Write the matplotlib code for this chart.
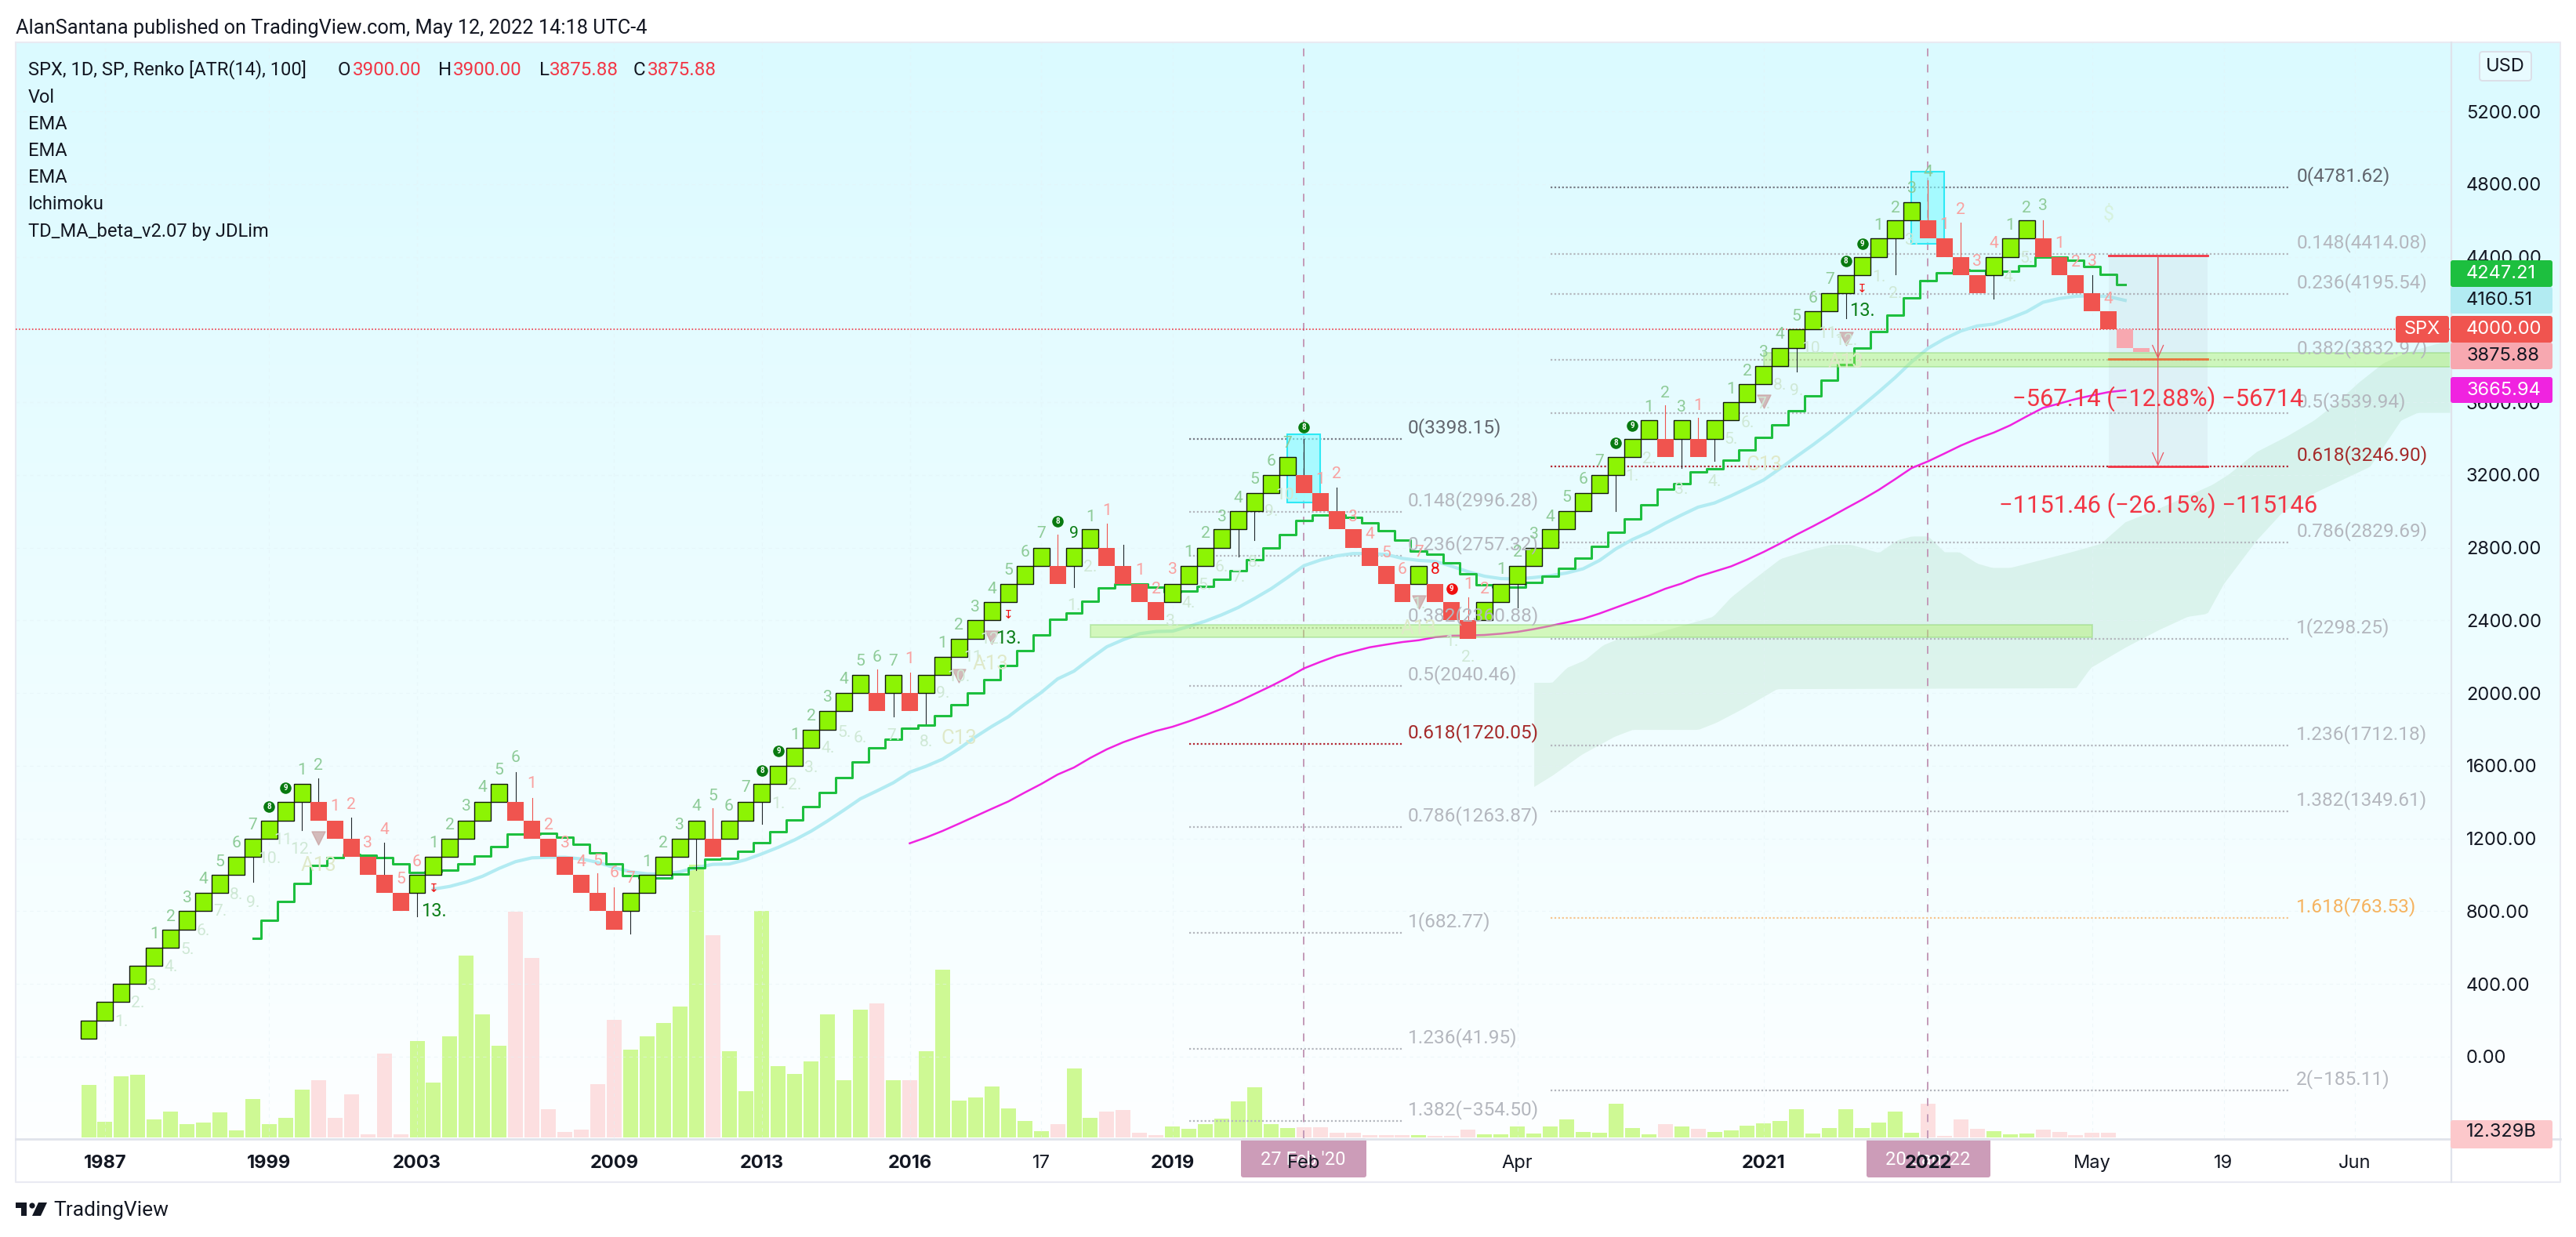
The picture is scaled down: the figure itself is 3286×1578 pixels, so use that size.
import numpy as np
import matplotlib
matplotlib.use('Agg')
import matplotlib.pyplot as plt
from matplotlib.colors import LinearSegmentedColormap
from matplotlib.patches import Rectangle, FancyBboxPatch, Polygon, Circle

plt.rcParams['font.family'] = ['Roboto', 'DejaVu Sans']

# ---------- data ----------
brick_low = [100,200,300,400,500,600,700,800,900,1000,1100,1200,1300,1400,
             1300,1200,1100,1000,900,800,
             900,1000,1100,1200,1300,1400,
             1300,1200,1100,1000,900,800,700,
             800,900,1000,1100,1200,
             1100,
             1200,1300,1400,1500,1600,1700,1800,1900,2000,
             1900,2000,1900,
             2000,2100,2200,2300,2400,2500,2600,2700,
             2600,2700,2800,
             2700,2600,2500,2400,
             2500,2600,2700,2800,2900,3000,3100,3200,
             3100,3000,2900,2800,2700,2600,2500,
             2600,
             2500,2400,2300,
             2400,2500,2600,2700,2800,2900,3000,3100,3200,3300,3400,
             3300,3400,3300,
             3400,3500,3600,3700,3800,3900,4000,4100,4200,4300,4400,4500,4600,
             4500,4400,4300,4200,
             4300,4400,4500,
             4400,4300,4200,4100,4000,
             3900,3875.88]
brick_high_last = 3900.0
brick_dir = ('gggggggggggggg' 'rrrrrr' 'gggggg' 'rrrrrrr' 'ggggg' 'r' 'ggggggggg' 'rgr' 'gggggggg'
             'r' 'gg' 'rrrr' 'gggggggg' 'rrrrrrr' 'g' 'rrr' 'ggggggggggg' 'r' 'g' 'r'
             'ggggggggggggg' 'rrrr' 'ggg' 'rrrrr' 'pp')

volumes = [67,20,78,80,23,33,17,19,32,9,49,17,25,61,73,25,55,4,107,4,123,70,129,232,157,117,288,229,36,7,10,68,150,
           112,129,146,167,348,258,110,59,289,91,81,97,157,73,163,171,73,73,110,214,47,51,65,37,21,8,17,88,25,33,35,6,3,
           14,11,17,24,46,64,17,12,13,13,6,6,3,3,3,3,2,2,10,4,4,14,5,14,23,7,6,43,12,4,17,14,11,7,9,15,18,21,36,5,12,36,
           12,19,33,6,43,2,23,11,8,4,5,10,7,3,6,6]

ema_green_start = 10
ema_green = [649,750,853,952,1054,1097,1114,1110,1097,1062,1013,1017,1026,1062,1103,1155,1223,1226,1230,1208,1170,
             1122,1062,998,984,984,1004,1040,1086,1092,1129,1176,1237,1301,1376,1452,1536,1622,1700,1745,1807,1824,
             1876,1936,2002,2076,2153,2234,2320,2406,2442,2507,2579,2602,2602,2583,2557,2561,2586,2626,2675,2734,
             2800,2872,2950,2981,2981,2967,2938,2895,2843,2783,2766,2718,2658,2596,2583,2583,2607,2643,2686,2741,
             2809,2883,2960,3037,3123,3152,3218,3234,3283,3339,3408,3477,3553,3635,3723,3808,3898,3990,4081,4174,
             4270,4314,4328,4325,4304,4321,4353,4400,4400,4383,4347,4304,4247.21]
ema_blue_start = 21
ema_blue = [922,937,961,993,1036,1073,1094,1097,1097,1088,1069,1041,1017,1006,1004,1017,1040,1058,1060,1083,1116,
            1152,1193,1241,1297,1357,1419,1462,1507,1565,1598,1637,1694,1759,1817,1870,1939,2003,2078,2121,2190,
            2255,2294,2327,2339,2341,2367,2396,2431,2471,2521,2574,2636,2701,2732,2755,2768,2768,2763,2741,2730,
            2725,2698,2668,2643,2630,2628,2636,2646,2661,2684,2730,2794,2845,2885,2935,2980,3023,3046,3085,3128,
            3173,3236,3302,3366,3434,3506,3581,3657,3736,3822,3897,3949,3992,4020,4030,4062,4098,4150,4171,4183,
            4186,4181,4160.51]
ema_mag_start = 50
ema_mag = [1174,1206,1242,1282,1323,1364,1404,1453,1500,1552,1591,1644,1691,1730,1762,1792,1815,1845,1878,1914,
           1953,1996,2039,2085,2136,2172,2205,2229,2252,2267,2281,2291,2308,2316,2317,2320,2327,2337,2352,2370,
           2389,2409,2438,2471,2504,2537,2574,2603,2641,2669,2697,2735,2777,2823,2872,2918,2966,3016,3065,3118,
           3177,3238,3275,3318,3362,3400,3433,3473,3522,3569,3593,3618,3638,3656,3665.94]

cloud_up_x = [88,89.1,90,91.1,92.2,93.3,95.1,97.3,98.9,100,101.5,103,104.6,106.1,107.3,109,110.1,111,112,113,113.9,115,
              115.9,117,118.7,120.7,122.5,124,125.8,128,129.3,130.3,132,133.8,135.5,136.9,138.2,139.7,141.1,143.9]
cloud_up_y = [2059,2059,2141,2183,2265,2306,2323,2380,2422,2529,2636,2740,2785,2818,2818,2773,2842,2864,2864,2777,2777,
              2714,2691,2691,2730,2777,2823,2942,3007,3095,3148,3205,3329,3412,3502,3601,3709,3816,3874,3948]
cloud_lo_x = [88,89.1,90.9,92.9,94,98,99.1,100.6,102.8,121,121.9,124,126,127.8,129,130,132,133.6,135.6,138.9,140.8,141.8,143.9]
cloud_lo_y = [1486,1547,1663,1762,1800,1800,1839,1910,2024,2029,2141,2252,2347,2422,2438,2603,2842,2999,3106,3247,3502,3544,3544]

# wick: bar index, price reached, colour key
wicks = [(10,961,'k'),(13,1245,'k'),(14,1531,'k'),(16,1316,'k'),(18,1176,'k'),(20,774,'k'),(26,1564,'k'),(27,1424,'r'),
         (31,1008,'r'),(32,933,'r'),(33,677,'k'),(37,1026,'k'),(38,1366,'r'),(41,1282,'k'),(48,2130,'r'),(49,1870,'k'),
         (50,2112,'r'),(51,1831,'k'),(59,2871,'r'),(60,2583,'k'),(62,2931,'r'),(63,2816,'k'),(70,2751,'k'),(71,2842,'k'),
         (74,3398,'k'),(76,3129,'k'),(84,2528,'r'),(87,2471,'k'),(93,3003,'k'),(96,3585,'r'),(97,3240,'k'),(98,3513,'r'),
         (99,3276,'k'),(104,3769,'k'),(107,4063,'k'),(110,4304,'k'),(112,4820,'r'),(114,4588,'r'),(116,4171,'k'),
         (119,4601,'r'),(122,4299,'k')]

green_counts = [(4,675,'1'),(5,771,'2'),(6,873,'3'),(7,976,'4'),(8,1071,'5'),(9,1176,'6'),(10,1273,'7'),(13,1574,'1'),(14,1600,'2'),
                (21,1176,'1'),(22,1273,'2'),(23,1376,'3'),(24,1480,'4'),(25,1577,'5'),(26,1643,'6'),(34,1073,'1'),(35,1176,'2'),
                (36,1273,'3'),(37,1376,'4'),(38,1433,'5'),(39,1376,'6'),(40,1480,'7'),(43,1770,'1'),(44,1872,'2'),(45,1975,'3'),
                (46,2075,'4'),(47,2176,'5'),(48,2198,'6'),(49,2176,'7'),(52,2274,'1'),(53,2375,'2'),(54,2471,'3'),(55,2574,'4'),
                (56,2675,'5'),(57,2773,'6'),(58,2878,'7'),(61,2971,'1'),(67,2773,'1'),(68,2878,'2'),(69,2971,'3'),(70,3073,'4'),
                (71,3175,'5'),(72,3273,'6'),(73,3376,'7'),(86,2679,'1'),(87,2773,'2'),(88,2873,'3'),(89,2971,'4'),(90,3075,'5'),
                (91,3178,'6'),(92,3276,'7'),(95,3573,'1'),(96,3652,'2'),(97,3573,'3'),(100,3671,'1'),(101,3772,'2'),(102,3875,'3'),
                (103,3973,'4'),(104,4074,'5'),(105,4170,'6'),(106,4275,'7'),(109,4574,'1'),(110,4669,'2'),(111,4774,'3'),
                (112,4868,'4'),(117,4574,'1'),(118,4670,'2'),(119,4680,'3')]
red_counts = [(15,1376,'1'),(16,1385,'2'),(17,1176,'3'),(18,1247,'4'),(19,976,'5'),(20,1073,'6'),(27,1503,'1'),(28,1273,'2'),
              (29,1176,'3'),(30,1073,'4'),(31,1077,'5'),(32,1013,'6'),(33,980,'7'),(50,2188,'1'),(62,3005,'1'),(64,2676,'1'),
              (65,2571,'2'),(66,2679,'3'),(75,3175,'1'),(76,3204,'2'),(77,2970,'3'),(78,2876,'4'),(79,2770,'5'),(80,2679,'6'),
              (81,2773,'7'),(84,2600,'1'),(85,2571,'2'),(98,3582,'1'),(113,4577,'1'),(114,4660,'2'),(115,4375,'3'),(116,4473,'4'),
              (120,4472,'1'),(121,4372,'2'),(122,4375,'3'),(123,4167,'4')]
pale_counts = [(2,192,'1.'),(3,295,'2.'),(4,390,'3.'),(5,494,'4.'),(6,588,'5.'),(7,690,'6.'),(8,799,'7.'),(9,890,'8.'),(10,849,'9.'),
               (11,1088,'10.'),(12,1191,'11.'),(13,1140,'12.'),(42,1390,'1.'),(43,1493,'2.'),(44,1590,'3.'),(45,1695,'4.'),
               (46,1783,'5.'),(47,1755,'6.'),(49,1766,'7.'),(51,1730,'8.'),(52,1999,'9.'),(54,2198,'11.'),(53,2090,'10.'),
               (55,2298,'12.'),(60,2481,'1.'),(61,2693,'2.'),(66,2396,'3.'),(67,2495,'4.'),(68,2593,'5.'),(69,2693,'6.'),
               (70,2636,'7.'),(71,2719,'8.'),(72,2998,'9.'),(73,3091,'10.'),(81,2490,'1.'),(83,2284,'1.'),(84,2198,'2.'),
               (94,3194,'1.'),(95,3290,'2.'),(97,3122,'3.'),(99,3161,'4.'),(100,3395,'5.'),(101,3487,'6.'),(102,3590,'7.'),
               (103,3693,'8.'),(104,3664,'9.'),(105,3894,'10.'),(106,3980,'11.'),(107,3940,'12.'),(109,4289,'1.'),(110,4196,'2.'),
               (111,4490,'3.'),(117,4289,'4.'),(118,4390,'5.')]
setup_marks = [(14,1054,'A13'),(54.9,2159,'A13'),(53,1752,'C13'),(81,2355,'A13'),(102,3254,'C13'),(107,3822,'A13')]
thirteen = [(21,802),(56,2301),(108,4105)]
nine_plain = [(60,2878,'9')]
bright_red = [(82,2679,'8')]
green_circles = [(11,1377,'8'),(12,1480,'9'),(41,1575,'8'),(42,1680,'9'),(59,2947,'8'),(74,3463,'8'),(93,3376,'8'),(94,3473,'9'),
                 (107,4378,'8'),(108,4472,'9')]
red_circles = [(83,2574,'9')]
triangles = [(14,1204),(53,2097),(55,2306),(81,2500),(102,3604),(107,3950)]
red_arrows = [(21,930),(56,2432),(108,4229)]
dollar = (123,4634,'$')

fib1_ratio = ['0','0.148','0.236','0.382','0.5','0.618','0.786','1','1.236','1.382']
fib1_price = [3398.15,2996.28,2757.32,2360.88,2040.46,1720.05,1263.87,682.77,41.95,-354.50]
fib2_ratio = ['0','0.148','0.236','0.382','0.5','0.618','0.786','1','1.236','1.382','1.618','2']
fib2_price = [4781.62,4414.08,4195.54,3832.97,3539.94,3246.90,2829.69,2298.25,1712.18,1349.61,763.53,-185.11]
fib1_span = (67,80)
fib2_span = (89,134)

cyan_boxes = [(73,75,3049,3424),(111,113,4472,4868)]
bands = [(61,122,2307,2376),(102,143.8,3795,3872)]
event_bars = [74,112]
pos_span = (123,129)
pos_mid = 126
pos_entry, pos_t1, pos_t2 = 4405,3839,3248
pos_text1 = '\u2212567.14 (\u221212.88%) \u221256714'
pos_text2 = '\u22121151.46 (\u221226.15%) \u2212115146'
last_line = 4000

xtick_pos = [1,11,20,32,41,50,58,66,74,87,102,112,122,130,138]
xtick_lab = ['1987','1999','2003','2009','2013','2016','17','2019','Feb','Apr','2021','2022','May','19','Jun']
xtick_bold = ['1987','1999','2003','2009','2013','2016','2019','2021','2022']
ytick_pos = [5200,4800,4400,3600,3200,2800,2400,2000,1600,1200,800,400,0]

legend_rows = ['Vol','EMA','EMA','EMA','Ichimoku','TD_MA_beta_v2.07 by JDLim']

# ---------- layout (pixels) ----------
W, H = 3286, 1578
L, R, T, B = 20, 3125, 54, 1452
X0, PITCH = 113.0, 20.95
Y0, PXP = 1348.0, 0.2319
PXT = 0.72

fig = plt.figure(figsize=(W/100, H/100), dpi=100, facecolor='white')

bg = fig.add_axes([0, 0, 1, 1], zorder=0)
bg.set_axis_off()
cmap = LinearSegmentedColormap.from_list('g', ['#dbfaff', '#ecfdff', '#fdffff'])
bg.imshow(np.linspace(0, 1, 256).reshape(-1, 1), cmap=cmap, extent=[L, 3266, B, T], aspect='auto', interpolation='bilinear')
bg.set_xlim(0, W); bg.set_ylim(H, 0)

frame = '#e9eaf2'
bg.plot([L, 3266, 3266, L, L], [T, T, 1508, 1508, T], color=frame, lw=1.5)
bg.plot([L, 3266], [B+1, B+1], color='#e0e3eb', lw=2)
bg.plot([3127, 3127], [T, 1508], color='#e0e3eb', lw=1.6)
for cx_, x0, x1, s in [(1662.5, 1583, 1743, "27 Feb '20"), (2459, 2381, 2539, "20 Jan '22")]:
    bg.add_patch(FancyBboxPatch((x0+3, B+3), x1-x0-6, 44, boxstyle='round,pad=3', fc='#cc9cb8', ec='none'))
    bg.text(cx_, 1480, s, color='white', fontsize=17, ha='center', va='center')

ax_vol = fig.add_axes([L/W, (H-B)/H, (R-L)/W, (B-T)/H], zorder=1)
ax_vol.patch.set_alpha(0); ax_vol.set_axis_off()
xlim = ((L-X0)/PITCH, (R-X0)/PITCH)
ax_vol.set_xlim(*xlim); ax_vol.set_ylim(-1, B-T-1)

ax = fig.add_axes([L/W, (H-B)/H, (R-L)/W, (B-T)/H], zorder=2)
ax.patch.set_alpha(0)
ax.set_xlim(*xlim)
ax.set_ylim((Y0-B)/PXP, (Y0-T)/PXP)
for s in ax.spines.values():
    s.set_visible(False)
ax.set_xticks(xtick_pos); ax.set_xticklabels(xtick_lab)
ax.set_yticks(ytick_pos); ax.set_yticklabels([f'{v:.2f}' for v in ytick_pos])
ax.yaxis.tick_right()
ax.tick_params(axis='y', length=0, pad=15, labelsize=17, labelcolor='#131722')
ax.tick_params(axis='x', length=0, pad=15, labelsize=17, labelcolor='#131722')
for t in ax.get_yticklabels():
    t.set_fontfamily(['Inter', 'DejaVu Sans'])
for t in ax.get_xticklabels():
    t.set_fontfamily(['Inter', 'DejaVu Sans'])
    if t.get_text() in xtick_bold:
        t.set_fontweight('bold')
ax.grid(True, color='#e4f2f6', lw=0.8, ls=(0, (4, 4)), alpha=0.5, zorder=0)

# volume
idx = np.arange(len(brick_low))
C = {'g': '#8cf404', 'r': '#f0544f', 'p': '#f7a8b0'}
VC = {'g': '#cef994', 'r': '#fcdfe0', 'p': '#fcdfe0'}
ax_vol.bar(idx[:len(volumes)], volumes, width=19/PITCH, color=[VC[c] for c in brick_dir[:len(volumes)]])

# cloud
cx = np.linspace(88, xlim[1], 300)
ax.fill_between(cx, np.interp(cx, cloud_lo_x, cloud_lo_y), np.interp(cx, cloud_up_x, cloud_up_y),
                color='#43a047', alpha=0.10, lw=0, zorder=1)

# fib
def fib(span, ratios, prices, dx):
    for r, p in zip(ratios, prices):
        col, tc = '#b4b7be', '#b4b7be'
        if r == '0':
            col, tc = '#787b86', '#62666e'
        elif r == '0.618':
            col, tc = '#b22833', '#a52a2a'
        elif r == '1.618':
            col, tc = '#f6c58f', '#f5b35f'
        ax.plot(span, [p, p], color=col, lw=1.6, ls=(0, (1, 1.2)), zorder=2)
        ax.annotate(f'{r}({p:.2f})'.replace('-', '\u2212'), (span[1], p), xytext=(dx*PXT, 14.5*PXT),
                    textcoords='offset points', ha='left', va='center', fontsize=17.6, color=tc, zorder=9)
fib(fib1_span, fib1_ratio, fib1_price, 7)
fib(fib2_span, fib2_ratio, fib2_price, 9)

# cyan boxes
for x0, x1, y0, y1 in cyan_boxes:
    ax.add_patch(Rectangle((x0, y0), x1-x0, y1-y0, fc='#7ffaff', ec='none', alpha=0.6, zorder=3))
    ax.add_patch(Rectangle((x0, y0), x1-x0, y1-y0, fc='none', ec='#2ee9f5', lw=1.5, zorder=3))

# event lines
for e in event_bars:
    ax.axvline(e, color='#c49cb9', lw=1.44, ls=(0, (5, 5.3)), zorder=2)

# last line
ax.axhline(last_line, color='#f23645', lw=1.2, ls=(0, (1, 1.5)), zorder=2)

# EMA
ax.plot(np.arange(ema_blue_start, ema_blue_start+len(ema_blue)), ema_blue, color='#b2ebf2', lw=3.0, zorder=4)
ax.plot(np.arange(ema_mag_start, ema_mag_start+len(ema_mag)), ema_mag, color='#f023e0', lw=1.8, zorder=4)
ax.plot(np.arange(ema_green_start, ema_green_start+len(ema_green)), ema_green, color='#1dbf3f', lw=2.2,
        drawstyle='steps-mid', zorder=4)

# bands
for x0, x1, y0, y1 in bands:
    ax.add_patch(Rectangle((x0, y0), x1-x0, y1-y0, fc='#aef060', ec='#8ad270', lw=1.4, alpha=0.42, zorder=5))

# position tool
ax.add_patch(Rectangle((pos_span[0], pos_t2), pos_span[1]-pos_span[0], pos_entry-pos_t2, fc='#787b86', ec='none', alpha=0.07, zorder=5))
ax.plot(pos_span, [pos_entry]*2, color='#f23645', lw=2.0, zorder=6)
ax.plot(pos_span, [pos_t1]*2, color='#e8743b', lw=2.0, zorder=6)
ax.plot(pos_span, [pos_t2]*2, color='#f23645', lw=2.0, zorder=6)
for tgt in (pos_t1, pos_t2):
    ax.annotate('', xy=(pos_mid, tgt), xytext=(pos_mid, pos_entry), zorder=6,
                arrowprops=dict(arrowstyle='->,head_width=0.42,head_length=0.95', color='#ea5560', lw=0.9, shrinkA=0, shrinkB=0, mutation_scale=12))
ax.text(pos_mid, 3621, pos_text1, color='#f23645', fontsize=22.2, ha='center', va='center', zorder=9)
ax.text(pos_mid, 3034, pos_text2, color='#f23645', fontsize=22.2, ha='center', va='center', zorder=9)

# bricks
heights = [100.0]*len(brick_low)
heights[-1] = brick_high_last - brick_low[-1]
for i, (lo, h, d) in enumerate(zip(brick_low, heights, brick_dir)):
    if d == 'g':
        ax.bar(i, h, bottom=lo, width=1, color=C[d], ec='#121a0c', lw=1.0, zorder=7)
    else:
        ax.bar(i, h, bottom=lo, width=1, color=C[d], ec='none', lw=0, zorder=7)

# wicks
for i, p, c in wicks:
    lo = brick_low[i]; hi = lo + heights[i]
    start = hi if p > hi else lo
    ax.plot([i, i], [start, p], color={'k': '#20262a', 'r': '#f0544f'}[c], lw=0.8, zorder=6.5)

# texts
def put(items, col, size, **kw):
    for i, p, s in items:
        ax.text(i, p, s, color=col, fontsize=size, ha='center', va='center', zorder=10, **kw)
put(green_counts, '#8ecb98', 15.2)
put(red_counts, '#f9a1a0', 15.2)
put(pale_counts, '#cfe8d5', 15.2)
put(setup_marks, '#dfe9c9', 18.5)
put([(i, p, '13.') for i, p in thirteen], '#0a7d16', 17)
put(nine_plain, '#0a7d16', 15.2)
put(bright_red, '#f01010', 15.2)
put([dollar], '#d6f2de', 18)
ax.scatter([t[0] for t in triangles], [t[1] for t in triangles], marker='v', s=150, fc='#c9a5a5', ec='#c9a0a0', alpha=0.75, lw=1, zorder=9)
ax.scatter([t[0] for t in green_circles], [t[1] for t in green_circles], s=110, c='#087a10', lw=0, zorder=10)
ax.scatter([t[0] for t in red_circles], [t[1] for t in red_circles], s=110, c='#f01010', lw=0, zorder=10)
put(green_circles, 'white', 7, fontweight='bold')
put(red_circles, 'white', 7, fontweight='bold')
for i, p in red_arrows:
    ax.text(i, p, '\u21a7', color='#f01010', fontsize=11, ha='center', va='center', zorder=10, family=['DejaVu Sans'])

# ---------- overlay ----------
top = fig.add_axes([0, 0, 1, 1], zorder=3)
top.patch.set_alpha(0); top.set_axis_off()
top.set_xlim(0, W); top.set_ylim(H, 0)

def tx(x, y, s, col='#131722', size=17, ha='left', **kw):
    top.text(x, y, s, color=col, fontsize=size, ha=ha, va='center', **kw)

tx(20, 36, 'AlanSantana published on TradingView.com, May 12, 2022 14:18 UTC-4', size=18.3)
tx(36, 89, 'SPX, 1D, SP, Renko [ATR(14), 100]')
for x, s, c in [(431, 'O', '#131722'), (450, '3900.00', '#f23645'), (559, 'H', '#131722'), (578, '3900.00', '#f23645'),
                (688, 'L', '#131722'), (701, '3875.88', '#f23645'), (808, 'C', '#131722'), (826, '3875.88', '#f23645')]:
    tx(x, 89, s, c, size=17.4)
for k, s in enumerate(legend_rows):
    tx(36, 124 + k*34.2, s)

top.add_patch(FancyBboxPatch((3167, 70), 58, 29, boxstyle='round,pad=4', fc='#e8fbff', ec='#dcdfe8', lw=1.4))
tx(3196, 84.5, 'USD', size=17, ha='center', family=['Inter', 'DejaVu Sans'])

def pbox(x0, x1, y0, y1, fc, text, tc, tx_x=3146, ha='left'):
    top.add_patch(FancyBboxPatch((x0+3, y0+3), x1-x0-6, y1-y0-6, boxstyle='round,pad=3', fc=fc, ec='none'))
    tx(tx_x, (y0+y1)/2, text, tc, ha=ha, family=['Inter', 'DejaVu Sans'])

pbox(3126, 3256, 332, 366, '#1dbf3f', '4247.21', 'white')
pbox(3126, 3256, 366, 400, '#b2ebf2', '4160.51', '#131722')
pbox(3056, 3124, 403, 437, '#f0544f', 'SPX', 'white', tx_x=3090, ha='center')
pbox(3126, 3256, 403, 437, '#f0544f', '4000.00', 'white')
pbox(3126, 3256, 437, 471, '#f7a8b0', '3875.88', '#131722')
pbox(3126, 3256, 481, 514, '#f023e0', '3665.94', 'white')
top.add_patch(FancyBboxPatch((3129, 1432), 124, 30, boxstyle='round,pad=3', fc='#fcc8cb', ec='none', clip_on=True,
                             clip_path=Rectangle((3126, 1420), 132, 32, transform=top.transData)))
t = top.text(3146, 1444, '12.329B', color='#131722', fontsize=17, ha='left', va='center', family=['Inter', 'DejaVu Sans'])
t.set_clip_path(Rectangle((3126, 1420), 132, 32, transform=top.transData))

# logo
top.add_patch(Polygon([(20, 1534), (34, 1534), (34, 1551), (27, 1551), (27, 1541), (20, 1541)], fc='#131722', ec='none'))
top.add_patch(Circle((41, 1538), 3.6, fc='#131722', ec='none'))
top.add_patch(Polygon([(49, 1534), (60, 1534), (52, 1551), (41, 1551)], fc='#131722', ec='none'))
tx(68, 1544, 'TradingView', size=19)

fig.savefig('out.png', dpi=100)
